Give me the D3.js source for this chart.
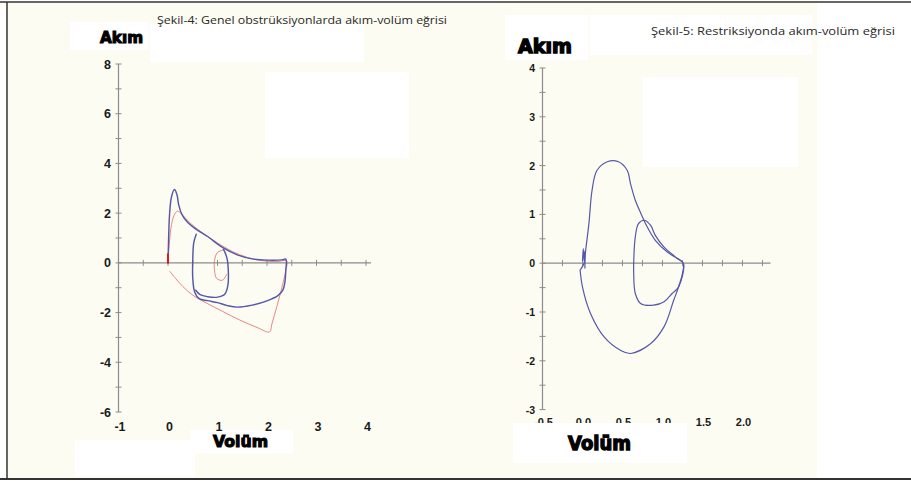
<!DOCTYPE html>
<html><head><meta charset="utf-8">
<script src="https://cdn.jsdelivr.net/npm/d3@7/dist/d3.min.js"></script>
<style>html,body{margin:0;padding:0;background:#fff;}svg{display:block;}</style>
</head><body>
<script>
// ---------- DATA ----------
const titleLeft = "Şekil-4: Genel obstrüksiyonlarda akım-volüm eğrisi";
const titleRight = "Şekil-5: Restriksiyonda akım-volüm eğrisi";
const yLabelText = "Akım";
const xLabelText = "Volüm";

// Left chart ticks
const leftYTickValues = d3.range(-6, 8.01, 1);
const leftYTickLabels = [-6, -4, -2, 0, 2, 4, 6, 8];
const leftXTickValues = d3.range(-0.5, 4.01, 0.5);
const leftXTickLabels = [-1, 0, 1, 2, 3, 4];
// Right chart ticks
const rightYTickValues = d3.range(-3, 4.01, 0.5);
const rightYTickLabels = [-3, -2, -1, 0, 1, 2, 3, 4];
const rightXTickValues = d3.range(-0.25, 2.26, 0.25);
const rightXTickLabels = ["-0.5", "0.0", "0.5", "1.0", "1.5", "2.0"];
const rightXTickPos = [-0.5, 0, 0.5, 1, 1.5, 2];

// Left chart curves: [volume, flow]
const leftBlueMain = [[0,0],[0.01,0.8],[0.03,1.9],[0.07,2.65],[0.13,2.95],[0.18,2.75],[0.22,2.3],[0.28,1.95],[0.4,1.62],[0.55,1.38],[0.8,1.06],[1.1,0.62],[1.4,0.32],[1.7,0.16],[2.0,0.11],[2.3,0.12],[2.38,0.15],[2.38,-0.3],[2.36,-0.8],[2.32,-1.1],[2.22,-1.32],[2.0,-1.53],[1.7,-1.7],[1.4,-1.78],[1.2,-1.72],[1.0,-1.6],[0.8,-1.52],[0.63,-1.44],[0.54,-1.18],[0.5,-0.6],[0.5,0.1],[0.52,0.8],[0.57,1.15]];
const leftBlueInner = [[1.12,0.55],[1.19,0.2],[1.22,-0.4],[1.21,-0.9],[1.15,-1.25],[1.0,-1.38],[0.8,-1.36],[0.65,-1.28],[0.56,-1.1]];
const leftRedMain = [[0,0],[0.02,0.6],[0.06,1.4],[0.12,1.9],[0.19,2.08],[0.28,1.95],[0.45,1.6],[0.7,1.2],[1.0,0.8],[1.3,0.46],[1.6,0.22],[1.9,0.09],[2.2,0.05],[2.4,0.08],[2.38,-0.3],[2.3,-1.0],[2.2,-1.75],[2.1,-2.45],[2.05,-2.78],[1.8,-2.6],[1.45,-2.3],[1.1,-1.95],[0.78,-1.62],[0.5,-1.3],[0.3,-0.95],[0.15,-0.62],[0.04,-0.35]];
const leftRedLoop = [[1.12,0.52],[1.0,0.42],[0.94,0.1],[0.94,-0.3],[0.98,-0.62],[1.1,-0.7],[1.19,-0.45]];
const leftRedStart = [[0,0],[0,0.35]];

// Right chart curves
const rightBlueMain = [[-0.03,-0.14],[0.02,0],[0.04,0.27],[0.08,0.81],[0.12,1.5],[0.18,1.9],[0.31,2.08],[0.45,2.08],[0.56,1.9],[0.6,1.63],[0.66,1.29],[0.73,1.02],[0.81,0.74],[0.91,0.47],[1.06,0.23],[1.18,0.1],[1.26,0],[1.25,-0.21],[1.2,-0.49],[1.14,-0.76],[1.02,-1.3],[0.85,-1.65],[0.6,-1.85],[0.48,-1.79],[0.27,-1.51],[0.1,-1.03],[0.0,-0.49],[-0.03,-0.14]];
const rightBlueLoop = [[0.64,0],[0.66,0.54],[0.7,0.81],[0.77,0.88],[0.85,0.78],[0.91,0.57],[1.02,0.33],[1.16,0.13],[1.26,0],[1.2,-0.49],[1.12,-0.62],[1.02,-0.79],[0.89,-0.86],[0.73,-0.83],[0.66,-0.62],[0.64,-0.21],[0.64,0]];
const rightScribble = [[0.0,0.05],[0.01,0.3],[0.02,0.05],[0.03,0.25],[0.03,-0.1]];

// ---------- DRAW ----------
const W = 911, H = 482;
const svg = d3.select("body").append("svg").attr("width", W).attr("height", H);

// page background (scanned page)
svg.append("rect").attr("x",0).attr("y",0).attr("width",W).attr("height",H).attr("fill","#ffffff");
svg.append("rect").attr("x",8).attr("y",3).attr("width",809).attr("height",475).attr("fill","#fcfcf2");
// pasted white patches
const patches = [[70,22,78,28],[150,24,214,38],[265,72,144,86],[75,440,120,36],[190,430,103,23],
                 [505,15,83,45],[590,15,222,40],[643,77,155,90]];
patches.forEach(p => svg.append("rect").attr("x",p[0]).attr("y",p[1]).attr("width",p[2]).attr("height",p[3]).attr("fill","#ffffff"));

// frame
svg.append("line").attr("x1",0).attr("x2",W).attr("y1",2).attr("y2",2).attr("stroke","#333").attr("stroke-width",1.5);
svg.append("line").attr("x1",0).attr("x2",W).attr("y1",479).attr("y2",479).attr("stroke","#333").attr("stroke-width",2);
svg.append("line").attr("x1",7).attr("x2",7).attr("y1",2).attr("y2",479).attr("stroke","#333").attr("stroke-width",1.5);

// scales
const xL = d3.scaleLinear().domain([-1,4]).range([118.5,366]);
const yL = d3.scaleLinear().domain([-6,8]).range([412,64]);
const xR = d3.scaleLinear().domain([-0.5,2]).range([542.5,742.5]);
const yR = d3.scaleLinear().domain([-3,4]).range([409.6,68]);

const axisColor = "#8c8c8c";
function drawAxes(g, xs, ys, xMin, xMax, yMin, yMax, xt, yt) {
  g.append("line").attr("x1",xs(xMin)).attr("x2",xs(xMin)).attr("y1",ys(yMin)).attr("y2",ys(yMax))
    .attr("stroke",axisColor).attr("stroke-width",1.2);
  g.append("line").attr("x1",xs(xMin)).attr("x2",xs(xMax)).attr("y1",ys(0)).attr("y2",ys(0))
    .attr("stroke",axisColor).attr("stroke-width",1.2);
  g.selectAll(".yt").data(yt).join("line")
    .attr("x1",xs(xMin)-3).attr("x2",xs(xMin)+3).attr("y1",d=>ys(d)).attr("y2",d=>ys(d))
    .attr("stroke",axisColor).attr("stroke-width",1);
  g.selectAll(".xt").data(xt).join("line")
    .attr("x1",d=>xs(d)).attr("x2",d=>xs(d)).attr("y1",ys(0)-3).attr("y2",ys(0)+3)
    .attr("stroke",axisColor).attr("stroke-width",1);
}
const gL = svg.append("g"), gR = svg.append("g");
drawAxes(gL, xL, yL, -1, 4.1, -6, 8, leftXTickValues, leftYTickValues);
drawAxes(gR, xR, yR, -0.5, 2.35, -3, 4, rightXTickValues, rightYTickValues);

const labFont = "'Liberation Sans', Arial, sans-serif";
// left tick labels
gL.selectAll(".yl").data(leftYTickLabels).join("text")
  .attr("x",111).attr("y",d=>yL(d)+4.5).attr("text-anchor","end")
  .attr("font-family",labFont).attr("font-weight","bold").attr("font-size",12.5).attr("fill","#1a1a1a").text(d=>d);
gL.selectAll(".xl").data(leftXTickLabels).join("text")
  .attr("x",d=>xL(d)+1.5).attr("y",431).attr("text-anchor","middle")
  .attr("font-family",labFont).attr("font-weight","bold").attr("font-size",12.5).attr("fill","#1a1a1a").text(d=>d);
// right tick labels
gR.selectAll(".yl").data(rightYTickLabels).join("text")
  .attr("x",535).attr("y",d=>yR(d)+4).attr("text-anchor","end")
  .attr("font-family",labFont).attr("font-weight","bold").attr("font-size",10.5).attr("fill","#1a1a1a").text(d=>d);
gR.selectAll(".xl").data(rightXTickLabels).join("text")
  .attr("x",(d,i)=>xR(rightXTickPos[i])+1).attr("y",426).attr("text-anchor","middle")
  .attr("font-family",labFont).attr("font-weight","bold").attr("font-size",11).attr("fill","#1a1a1a").text(d=>d);

// white patch covering bottom of right x labels
svg.append("rect").attr("x",513).attr("y",423).attr("width",174).attr("height",40).attr("fill","#ffffff");

// curves
const line = (xs, ys) => d3.line().x(d=>xs(d[0])).y(d=>ys(d[1])).curve(d3.curveCatmullRom.alpha(0.5));
const blue = "#5558aa", red = "#e27a7a";
function path(g, data, xs, ys, color, w, op) {
  g.append("path").datum(data).attr("d", line(xs,ys)).attr("fill","none")
   .attr("stroke",color).attr("stroke-width",w).attr("stroke-opacity",op||1)
   .attr("stroke-linejoin","round").attr("stroke-linecap","round");
}
path(gL, leftRedMain, xL, yL, red, 1, 0.9);
path(gL, leftRedLoop, xL, yL, red, 1, 0.9);
path(gL, leftBlueMain, xL, yL, blue, 1.45);
path(gL, leftBlueInner, xL, yL, blue, 1.45);
path(gL, leftRedStart, xL, yL, "#e01818", 2);
path(gR, rightBlueMain, xR, yR, blue, 1.2);
path(gR, rightBlueLoop, xR, yR, blue, 1.2);
path(gR, rightScribble, xR, yR, blue, 1.2);

// titles
svg.append("text").attr("x",157).attr("y",24).attr("font-family","'Open Sans', 'Noto Sans', sans-serif")
  .attr("font-size",10.5).attr("fill","#2a2a2a").attr("textLength",290).attr("lengthAdjust","spacingAndGlyphs").text(titleLeft);
svg.append("text").attr("x",651).attr("y",35).attr("font-family","'Open Sans', 'Noto Sans', sans-serif")
  .attr("font-size",10.5).attr("fill","#2a2a2a").attr("textLength",244).attr("lengthAdjust","spacingAndGlyphs").text(titleRight);

// heavy axis names
function heavy(x, y, size, len, txt) {
  svg.append("text").attr("x",x).attr("y",y).attr("font-family","'DejaVu Sans', sans-serif").attr("font-weight","bold")
    .attr("font-size",size).attr("fill","#000").attr("stroke","#000").attr("stroke-width",size*0.07)
    .attr("textLength",len).attr("lengthAdjust","spacingAndGlyphs").text(txt);
}
heavy(100, 43, 16, 43, yLabelText);
heavy(518, 53, 20, 54, yLabelText);
heavy(213, 447, 15.5, 55, xLabelText);
heavy(568, 450, 19, 63, xLabelText);
</script>
</body></html>
